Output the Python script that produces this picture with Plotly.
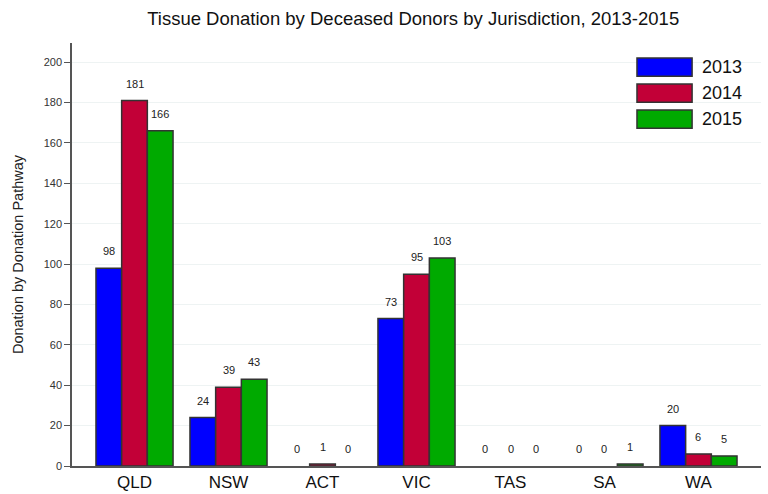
import plotly.graph_objects as go

jurisdictions = ["QLD", "NSW", "ACT", "VIC", "TAS", "SA", "WA"]
years = ["2013", "2014", "2015"]
donors_2013 = [98, 24, 0, 73, 0, 0, 20]
donors_2014 = [181, 39, 1, 95, 0, 0, 6]
donors_2015 = [166, 43, 0, 103, 0, 1, 5]
colours = ["#0000ff", "#c20037", "#00aa00"]

series = [donors_2013, donors_2014, donors_2015]
bargap = 0.18
bar_w = (1 - bargap) / len(series)

fig = go.Figure()
for name, vals, col in zip(years, series, colours):
    # zero bars are left out so no outline is drawn for them
    fig.add_trace(go.Bar(
        x=jurisdictions, y=[v if v else None for v in vals], name=name,
        marker=dict(color=col, line=dict(color="#333333", width=1.5)),
        showlegend=False,
    ))

# value labels over each bar
for j, vals in enumerate(series):
    off = (j - (len(series) - 1) / 2) * bar_w
    for i, v in enumerate(vals):
        fig.add_annotation(x=i + off, y=v, xref="x", yref="y", text=str(v),
                           showarrow=False, yshift=17, yanchor="middle",
                           font=dict(size=11, color="#222222"))

# legend boxes, drawn by hand so the swatches are wide like the original
for j, (name, col) in enumerate(zip(years, colours)):
    top = 0.9645 - j * 0.0615
    fig.add_shape(type="rect", xref="paper", yref="paper",
                  x0=0.82, x1=0.9, y0=top - 0.043, y1=top,
                  fillcolor=col, line=dict(color="#333333", width=1.5))
    fig.add_annotation(xref="paper", yref="paper", x=0.912, y=top - 0.0215,
                       text=name, showarrow=False, xanchor="left", yanchor="middle",
                       font=dict(size=18, color="#111111"))

fig.update_layout(
    width=768, height=494,
    margin=dict(l=72, r=7, t=43, b=28),
    barmode="group", bargap=bargap, bargroupgap=0,
    plot_bgcolor="white", paper_bgcolor="white",
    font=dict(family="Liberation Sans, Arial, sans-serif", color="#222222"),
    title=dict(text="Tissue Donation by Deceased Donors by Jurisdiction, 2013-2015",
               x=0.538, xanchor="center", y=0.962, yanchor="middle",
               font=dict(size=18.5, color="#111111")),
)
fig.update_xaxes(range=[-0.665, 6.665], showline=True, linecolor="#555555",
                 linewidth=1.5, ticks="", tickfont=dict(size=17, color="#111111"),
                 showgrid=False, automargin=False)
fig.update_yaxes(range=[0, 209.5], dtick=20, showline=True, linecolor="#555555",
                 linewidth=1.5, ticks="outside", ticklen=6, tickcolor="#555555",
                 tickfont=dict(size=11, color="#333333"),
                 gridcolor="#eef3f3", zeroline=False, automargin=False,
                 title=dict(text="Donation by Donation Pathway",
                            font=dict(size=14.5, color="#222222"), standoff=17))

# page has a default 8px body margin; drop it so the figure sits at 0,0
fig.write_html("out.html", config={"displayModeBar": False},
               post_script="document.body.style.margin='0';")
